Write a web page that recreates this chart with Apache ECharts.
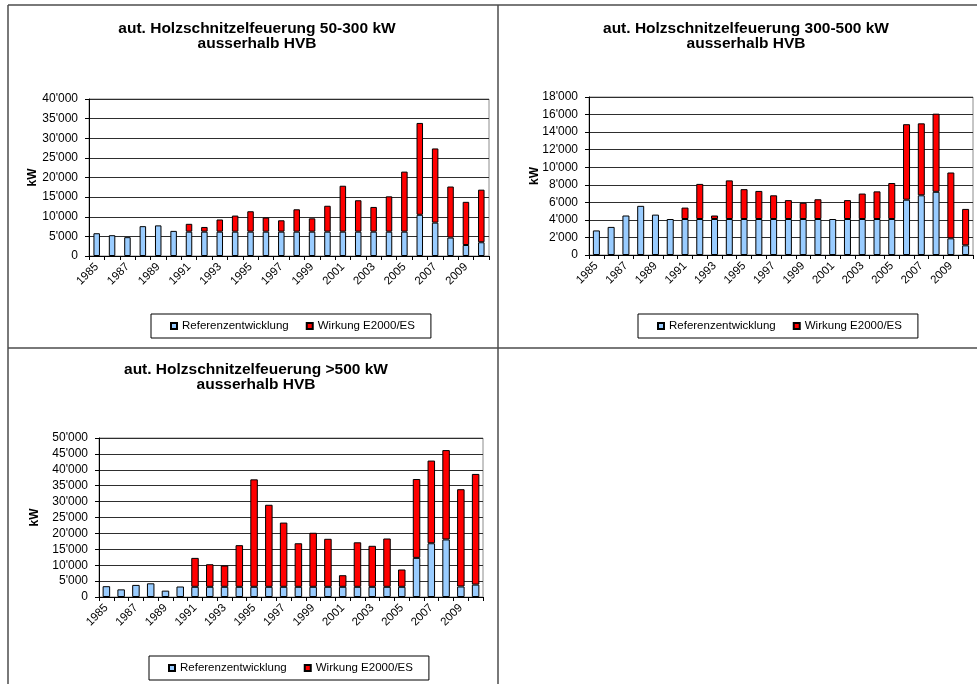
<!DOCTYPE html>
<html>
<head>
<meta charset="utf-8">
<script src="https://cdn.jsdelivr.net/npm/echarts@6/dist/echarts.min.js"></script>
<style>
  html, body { margin: 0; padding: 0; background: #fff; }
  #chart { width: 977px; height: 684px; }
</style>
</head>
<body>
<div id="chart"></div>
<script>
// Years on the category axis
const years = ['1985','1986','1987','1988','1989','1990','1991','1992','1993','1994','1995','1996','1997',
               '1998','1999','2000','2001','2002','2003','2004','2005','2006','2007','2008','2009','2010'];

// 50-300 kW (kW installed per year)
const ref50to300 = [5800,5300,4800,7600,7800,6400,6200,6200,6200,6200,6200,6200,6200,
                    6200,6200,6200,6200,6200,6200,6200,6200,10500,8500,4700,2800,3500];
const eff50to300 = [null,null,null,null,null,null,2000,1200,3100,4100,5200,3600,2900,
                    5700,3400,6600,11700,8000,6300,9000,15300,23400,18900,13000,11000,13400];

// 300-500 kW
const ref300to500 = [2800,3200,4500,5600,4600,4100,4100,4100,4100,4100,4100,4100,4100,
                     4100,4100,4100,4100,4100,4100,4100,4100,6300,6800,7200,1900,1100];
const eff300to500 = [null,null,null,null,null,null,1300,4000,400,4400,3400,3200,2700,
                     2150,1850,2250,null,2150,2900,3150,4100,8600,8200,8900,7500,4150];

// >500 kW
const refOver500 = [3400,2400,3800,4300,2000,3300,3200,3200,3200,3200,3200,3200,3200,
                    3200,3200,3200,3200,3200,3200,3200,3200,12300,16900,18100,3300,3900];
const effOver500 = [null,null,null,null,null,null,9100,7100,6700,13100,33800,25800,20200,
                    13700,17000,15100,3650,14000,12900,15200,5450,24800,26000,28100,30600,34800];

// Value-axis ranges
const axisMax = [40000, 18000, 50000];
const axisStep = [5000, 2000, 5000];

// Panel titles and legend names
const titles = [
  'aut. Holzschnitzelfeuerung 50-300 kW\nausserhalb HVB',
  'aut. Holzschnitzelfeuerung 300-500 kW\nausserhalb HVB',
  'aut. Holzschnitzelfeuerung >500 kW\nausserhalb HVB'
];
const seriesNames = ['Referenzentwicklung', 'Wirkung E2000/ES'];
const unitName = 'kW';

const FONT = 'Arial, "Liberation Sans", sans-serif';
const fmt = v => String(v).replace(/\B(?=(\d{3})+(?!\d))/g, "'");

// Layout of the three panels
const layout = [
  { grid: { left: 89,  top: 99,  width: 400, height: 157 }, title: [257, 21], legend: [151, 314], nameGap: 50, bar: 6.5 },
  { grid: { left: 589, top: 97,  width: 384, height: 158 }, title: [746, 21], legend: [638, 314], nameGap: 48, bar: 7 },
  { grid: { left: 99,  top: 438, width: 384, height: 159 }, title: [256, 362], legend: [149, 656], nameGap: 58, bar: 7.5 }
];
const refData = [ref50to300, ref300to500, refOver500];
const effData = [eff50to300, eff300to500, effOver500];

const grids = [], xAxes = [], yAxes = [], series = [], legends = [], graphics = [];

layout.forEach((p, i) => {
  grids.push(Object.assign({
    show: true, borderColor: '#8c8c8c', borderWidth: 1, backgroundColor: 'transparent',
    outerBoundsMode: 'none', containLabel: false
  }, p.grid));

  xAxes.push({
    type: 'category', gridIndex: i, data: years, boundaryGap: true,
    axisLine: { lineStyle: { color: '#000', width: 1 } },
    axisTick: { show: true, interval: 0, length: 4, lineStyle: { color: '#000' } },
    axisLabel: { interval: 1, rotate: 45, margin: 9, color: '#000', fontSize: 11.5, fontFamily: FONT },
    splitLine: { show: false }
  });

  yAxes.push({
    type: 'value', gridIndex: i, min: 0, max: axisMax[i], interval: axisStep[i],
    name: unitName, nameLocation: 'middle', nameRotate: 90, nameGap: p.nameGap,
    nameMoveOverlap: false,
    nameTextStyle: { fontWeight: 'bold', fontSize: 12, color: '#000', fontFamily: FONT },
    axisLine: { show: true, lineStyle: { color: '#000', width: 1 } },
    axisTick: { show: true, length: 4, lineStyle: { color: '#000' } },
    axisLabel: { color: '#000', fontSize: 12, margin: 11, fontFamily: FONT, formatter: fmt },
    splitLine: { show: true, lineStyle: { color: '#2e2e2e', width: 1 } }
  });

  series.push({
    name: seriesNames[0], type: 'bar', stack: 'p' + i, xAxisIndex: i, yAxisIndex: i,
    data: refData[i], barWidth: p.bar,
    itemStyle: { color: '#99CCFF', borderColor: '#000', borderWidth: 1 }
  });
  series.push({
    name: seriesNames[1], type: 'bar', stack: 'p' + i, xAxisIndex: i, yAxisIndex: i,
    data: effData[i], barWidth: p.bar,
    itemStyle: { color: '#FF0000', borderColor: '#000', borderWidth: 1 }
  });

  legends.push({
    data: seriesNames, left: p.legend[0], top: p.legend[1], orient: 'horizontal',
    icon: 'rect', itemWidth: 6, itemHeight: 6, itemGap: 17,
    padding: [6, 16, 6, 19], borderColor: '#000', borderWidth: 1,
    textStyle: { color: '#000', fontSize: 11.5, fontFamily: FONT },
    selectedMode: false
  });

  graphics.push({
    type: 'text', x: p.title[0], y: p.title[1], silent: true,
    style: {
      text: titles[i], align: 'center', verticalAlign: 'top',
      fontFamily: FONT, fontWeight: 'bold', fontSize: 15.5, lineHeight: 15, fill: '#000'
    }
  });
});

// Table frame around the panels
const frame = [
  [8, 5, 977, 5], [8, 348, 977, 348], [8, 5, 8, 684], [498, 5, 498, 684]
];
frame.forEach(([x1, y1, x2, y2]) => {
  graphics.push({
    type: 'line', silent: true,
    shape: { x1, y1, x2, y2 },
    style: { stroke: '#4d4d4d', lineWidth: 1.5 }
  });
});

const chart = echarts.init(document.getElementById('chart'), null, { renderer: 'canvas' });
chart.setOption({
  animation: false,
  backgroundColor: '#fff',
  grid: grids,
  xAxis: xAxes,
  yAxis: yAxes,
  series: series,
  legend: legends,
  graphic: graphics
});
</script>
</body>
</html>
